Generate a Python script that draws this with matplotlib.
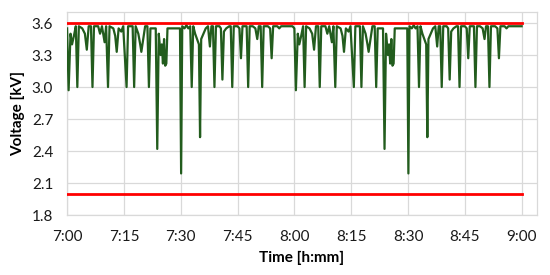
import matplotlib
matplotlib.use("Agg")
import matplotlib.pyplot as plt

# minutes after 7:00 and voltage in kV
minutes = [
    0.0, 0.4, 0.9, 1.3, 1.8, 2.3, 2.7, 3.1, 4.0, 4.7, 5.2, 5.7, 6.3, 6.7, 7.1,
    8.2, 8.7, 9.2, 9.9, 10.3, 10.8, 11.2, 12.2, 12.7, 13.1, 13.6, 14.3, 14.8,
    15.7, 16.1, 17.3, 17.7, 18.1, 18.8, 19.3, 19.6, 20.1, 20.6, 21.2, 21.6,
    22.0, 22.5, 23.4, 23.8, 24.2, 24.7, 25.0, 25.3, 25.6, 25.9, 26.2, 26.5,
    29.8, 30.1, 30.4, 31.0, 31.5, 32.0, 32.5, 32.9, 33.3, 33.8, 34.3, 34.8,
    35.1, 35.4, 36.0, 36.6, 37.2, 37.7, 38.1, 38.5, 38.9, 39.3, 40.2, 40.6,
    41.0, 41.4, 42.0, 42.8, 43.2, 43.6, 44.0, 45.0, 45.5, 45.9, 46.3, 47.4,
    47.8, 48.2, 49.0, 49.7, 50.2, 50.6, 51.1, 51.5, 51.9, 53.0, 53.6, 54.0,
    54.4, 55.5, 56.0, 56.5, 59.5,
    60.0, 60.4, 60.9, 61.3, 61.8, 62.3, 62.7, 63.1, 64.0, 64.7, 65.2, 65.7,
    66.3, 66.7, 67.1, 68.2, 68.7, 69.2, 69.9, 70.3, 70.8, 71.2, 72.2, 72.7,
    73.1, 73.6, 74.3, 74.8, 75.7, 76.1, 77.3, 77.7, 78.1, 78.8, 79.3, 79.6,
    80.1, 80.6, 81.2, 81.6, 82.0, 82.5, 83.4, 83.8, 84.2, 84.7, 85.0, 85.3,
    85.6, 85.9, 86.2, 86.5, 89.8, 90.1, 90.4, 91.0, 91.5, 92.0, 92.5, 92.9,
    93.3, 93.8, 94.3, 94.8, 95.1, 95.4, 96.0, 96.6, 97.2, 97.7, 98.1, 98.5,
    98.9, 99.3, 100.2, 100.6, 101.0, 101.4, 102.0, 102.8, 103.2, 103.6,
    104.0, 105.0, 105.5, 105.9, 106.3, 107.4, 107.8, 108.2, 109.0, 109.7,
    110.2, 110.6, 111.1, 111.5, 111.9, 113.0, 113.6, 114.0, 114.4, 115.5,
    116.0, 116.5, 120.0,
]
voltage = [
    3.55, 2.97, 3.50, 3.40, 3.48, 3.57, 3.00, 3.57, 3.55, 3.50, 3.35, 3.57, 3.57, 3.00, 3.57,
    3.57, 3.50, 3.57, 3.42, 3.57, 3.00, 3.57, 3.55, 3.48, 3.33, 3.55, 3.52, 3.57,
    3.00, 3.57, 3.57, 3.00, 3.57, 3.50, 3.40, 3.33, 3.45, 3.57, 3.57, 3.00,
    3.55, 3.55, 3.55, 2.42, 3.50, 3.30, 3.40, 3.22, 3.45, 3.20, 3.22, 3.55,
    3.55, 2.19, 3.57, 3.55, 3.58, 3.55, 3.57, 3.00, 3.57, 3.50, 3.45, 3.40,
    2.53, 3.45, 3.50, 3.55, 3.57, 3.38, 3.57, 3.57, 3.00, 3.57, 3.57, 3.55,
    3.07, 3.52, 3.55, 3.57, 3.57, 3.00, 3.57, 3.57, 3.55, 3.27, 3.57, 3.57,
    3.00, 3.57, 3.57, 3.55, 3.45, 3.57, 3.57, 3.00, 3.57, 3.57, 3.55, 3.27,
    3.57, 3.57, 3.55, 3.57, 3.57,
    3.55, 2.97, 3.50, 3.40, 3.48, 3.57, 3.00, 3.57, 3.55, 3.50, 3.35, 3.57,
    3.57, 3.00, 3.57, 3.57, 3.50, 3.57, 3.42, 3.57, 3.00, 3.57, 3.55, 3.48,
    3.33, 3.55, 3.52, 3.57, 3.00, 3.57, 3.57, 3.00, 3.57, 3.50, 3.40, 3.33,
    3.45, 3.57, 3.57, 3.00, 3.55, 3.55, 3.55, 2.42, 3.50, 3.30, 3.40, 3.22,
    3.45, 3.20, 3.22, 3.55, 3.55, 2.19, 3.57, 3.55, 3.58, 3.55, 3.57, 3.00,
    3.57, 3.50, 3.45, 3.40, 2.53, 3.45, 3.50, 3.55, 3.57, 3.38, 3.57, 3.57,
    3.00, 3.57, 3.57, 3.55, 3.07, 3.52, 3.55, 3.57, 3.57, 3.00,
    3.57, 3.57, 3.55, 3.27, 3.57, 3.57, 3.00, 3.57, 3.57, 3.55,
    3.45, 3.57, 3.57, 3.00, 3.57, 3.57, 3.55, 3.27, 3.57, 3.57,
    3.55, 3.57, 3.57,
]

# limits drawn as red lines
upper_limit = 3.6
lower_limit = 2.0
limit_span = [0, 120]

tick_minutes = [0, 15, 30, 45, 60, 75, 90, 105, 120]
tick_labels = ["7:00", "7:15", "7:30", "7:45", "8:00", "8:15", "8:30", "8:45", "9:00"]
y_ticks = [1.8, 2.1, 2.4, 2.7, 3.0, 3.3, 3.6]

plt.rcParams["font.family"] = ["Lato", "DejaVu Sans"]

fig, ax = plt.subplots(figsize=(5.5, 2.75), dpi=100)
fig.subplots_adjust(left=0.122, right=0.976, top=0.955, bottom=0.218)

ax.plot(minutes, voltage, color="#225c1d", linewidth=1.6, zorder=3)
ax.plot(limit_span, [upper_limit, upper_limit], color="#ff0000", linewidth=2.0, zorder=4)
ax.plot(limit_span, [lower_limit, lower_limit], color="#ff0000", linewidth=2.0, zorder=4)

ax.set_xlim(0, 124)
ax.set_ylim(1.8, 3.7)
ax.set_xticks(tick_minutes)
ax.set_xticklabels(tick_labels)
ax.set_yticks(y_ticks)
ax.set_yticklabels([f"{v:.1f}" for v in y_ticks])

ax.grid(True, color="#d9d9d9", linewidth=0.9)
ax.set_axisbelow(True)
for side in ax.spines.values():
    side.set_color("#d9d9d9")
    side.set_linewidth(0.9)
ax.tick_params(length=0, labelsize=11, colors="#1a1a1a")
ax.tick_params(axis="x", pad=11)
ax.tick_params(axis="y", pad=10)

ax.set_xlabel("Time [h:mm]", fontsize=11, fontweight="bold", labelpad=5)
ax.set_ylabel("Voltage [kV]", fontsize=11, fontweight="bold", labelpad=5)

fig.savefig("out.png", dpi=100)
